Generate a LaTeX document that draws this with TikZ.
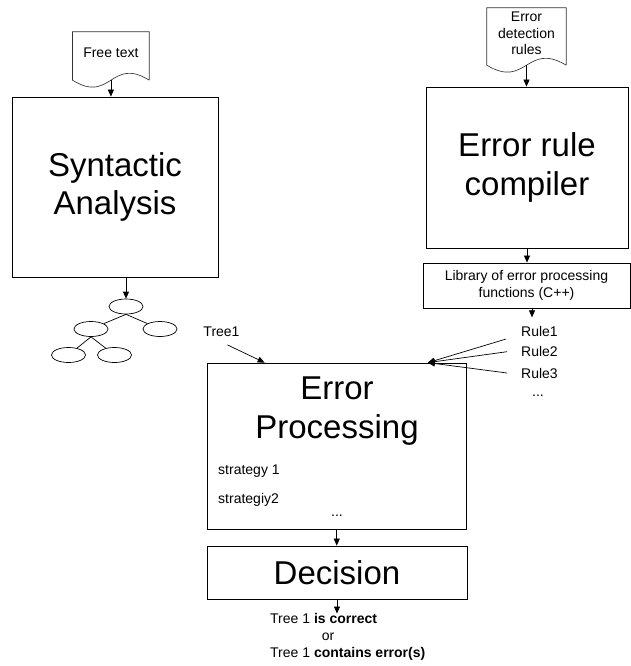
\documentclass[tikz,border=0pt]{standalone}
\usepackage{fontspec}
\setmainfont{Liberation Sans}
\usetikzlibrary{arrows.meta,shapes.geometric,calc}
\tikzset{box/.style={draw,line width=0.75pt,inner sep=0pt,align=center},
doc/.style={inner sep=0pt,align=center,text depth=6pt},
arr/.style={-{Triangle[length=7pt,width=6pt]},line width=0.7pt},
leaf/.style={draw,ellipse,line width=0.7pt,minimum width=34pt,minimum height=15pt,inner sep=0pt},
big/.style={font=\fontsize{33}{38.5}\selectfont,align=center},
lbl/.style={inner sep=0pt,anchor=base west}}
\newcommand\docoutline[1]{\draw[black!80,line width=0.65pt] (#1.south east)--(#1.north east)--(#1.north west)--(#1.south west)
.. controls ($(#1.south)+(0,24)$) and ($(#1.south)+(0,-24)$) .. (#1.south east);}

\begin{document}
\begin{tikzpicture}[x=1pt,y=-1pt,font=\fontsize{14}{16.5}\selectfont]
\useasboundingbox (0,0) rectangle (631,666);

\node[doc,minimum width=76.3pt,minimum height=48pt] (ftxt) at (110.9,56) {Free text};
\docoutline{ftxt}
\node[doc,minimum width=79pt,minimum height=57pt] (edr) at (526.5,36.5) {Error\\detection\\rules};
\docoutline{edr}

\node[box,big,minimum width=206pt,minimum height=180pt] (syn) at (115,187) {Syntactic\\Analysis};
\node[box,big,minimum width=202pt,minimum height=161pt] (erc) at (527,167.5) {Error rule\\compiler};
\node[box,minimum width=207pt,minimum height=45pt] (lib) at (526.5,285.5) {Library of error processing\\functions (C++)};
\draw[arr] (ftxt.south)--(ftxt.south |- syn.north);
\draw[arr] (edr.south)--(edr.south |- erc.north);
\draw[arr] (erc.south)--(erc.south |- lib.north);

% parse tree
\node[leaf] (root) at (126,306.5) {};
\node[leaf] (n1) at (91,329) {};
\node[leaf] (n2) at (160,329) {};
\node[leaf] (n3) at (68.5,355) {};
\node[leaf] (n4) at (114.5,355) {};
\draw[line width=0.7pt] (root.south)--(n1) (root.south)--(n2) (n1.south)--(n3) (n1.south)--(n4);
\draw[arr] (root.north |- syn.south)--(root.north);

% rules
\node[lbl] (r1) at (521,336.7) {Rule1};
\node[lbl] (r2) at (521,356.7) {Rule2};
\node[lbl] (r3) at (521,378) {Rule3};
\node (rdots) at (538,396) {...};
\coordinate (r1in) at ([shift={(11,-9)}]r1.north west);
\draw[arr] (lib.south -| r1in)--(r1in);

\node[box,minimum width=259.5pt,minimum height=166pt] (ep) at (336.75,446) {};
\node[big,inner sep=0pt] (eptitle) at (337,411) {Error\\Processing};
\node[lbl] (s1) at (218,474.3) {strategy 1};
\node[lbl] (s2) at (218,503.3) {strategiy2};
\node (sdots) at (337,516) {...};

\node (t1) at (221.5,331.5) {Tree1};
\coordinate (tin) at ($(ep.north west)+(58,0)$);
\coordinate (rin) at ($(ep.north east)+(-39,0)$);
\draw[arr] ([shift={(6,5)}]t1.south)--(tin);
\draw[arr] ([shift={(-15,2)}]r1.south west)--(rin);
\draw[arr] ([xshift=-14pt]r2.west)--(rin);
\draw[arr] ([xshift=-14pt]r3.west)--(rin);

\node[box,big,minimum width=260pt,minimum height=53pt] (dec) at (337,572.5) {Decision};
\draw[arr] (ep.south)--(ep.south |- dec.north);

\node[inner sep=0pt,anchor=north west,align=left,font=\fontsize{14}{17}\selectfont] (res) at (270,613.5)
{Tree 1 \textbf{is correct}\\\hspace*{51.7pt}or\\Tree 1 \textbf{contains error(s)}};
\draw[arr] (dec.south)--(dec.south |- res.north);
\end{tikzpicture}
\end{document}
